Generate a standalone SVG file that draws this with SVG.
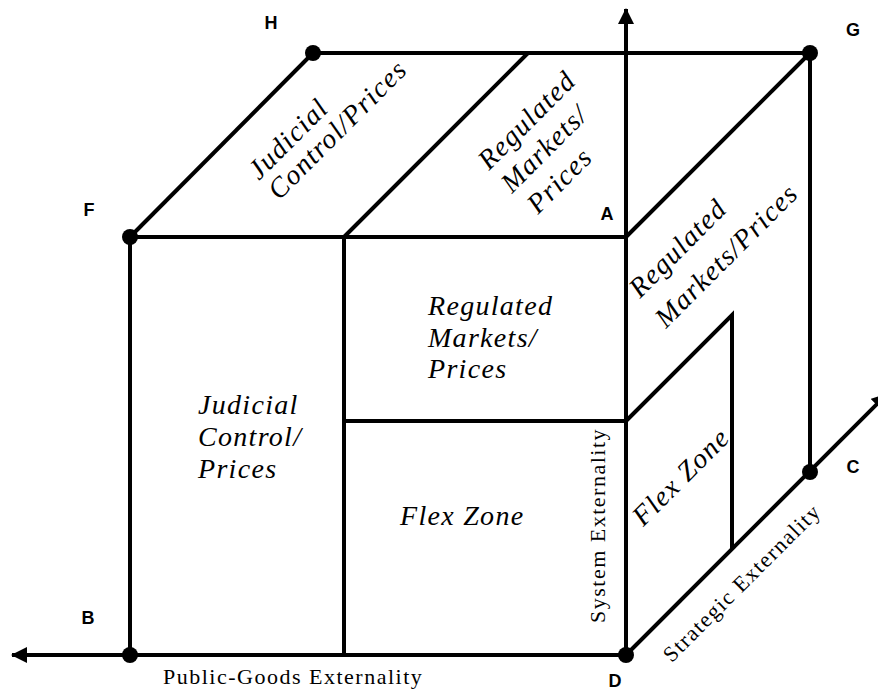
<svg xmlns="http://www.w3.org/2000/svg" width="878" height="691" viewBox="0 0 878 691">
<style>
.ln{stroke:#000;stroke-width:4;fill:none;stroke-linecap:butt}
.dot{fill:#000}
.it{font-family:"Liberation Serif","Times New Roman",serif;font-style:italic;font-size:28px;letter-spacing:1.3px;fill:#000}
.rm{font-family:"Liberation Serif","Times New Roman",serif;font-size:22px;letter-spacing:1.5px;fill:#000}
.lb{font-family:"Liberation Sans",Arial,sans-serif;font-weight:bold;font-size:18px;text-anchor:middle;fill:#000}
</style>
<defs>
<marker id="arr" viewBox="0 0 16 16" refX="15" refY="8" markerWidth="16" markerHeight="16" markerUnits="userSpaceOnUse" orient="auto">
<path d="M0,0 L16,8 L0,16 Z" fill="#000"/>
</marker>
</defs>
<rect width="878" height="691" fill="#fff"/>
<g id="connectors">
<line class="ln" x1="626" y1="655" x2="626" y2="9" marker-end="url(#arr)"/>
<line class="ln" x1="626" y1="655" x2="12" y2="655" marker-end="url(#arr)"/>
<line class="ln" x1="626" y1="655" x2="887" y2="394" marker-end="url(#arr)"/>
<line class="ln" x1="130" y1="237" x2="626" y2="237"/>
<line class="ln" x1="130" y1="237" x2="130" y2="655"/>
<line class="ln" x1="313" y1="53" x2="810" y2="53"/>
<line class="ln" x1="130" y1="237" x2="313" y2="53"/>
<line class="ln" x1="344" y1="237" x2="528" y2="53"/>
<line class="ln" x1="626" y1="237" x2="810" y2="53"/>
<line class="ln" x1="810" y1="53" x2="810" y2="472"/>
<line class="ln" x1="344" y1="237" x2="344" y2="655"/>
<line class="ln" x1="344" y1="421" x2="626" y2="421"/>
<polyline class="ln" points="626,421 732,315 732,549"/>
</g>
<g id="F"><circle class="dot" cx="130" cy="237" r="8"/><text class="lb" x="89" y="215.5">F</text></g>
<g id="H"><circle class="dot" cx="313" cy="53" r="8"/><text class="lb" x="271" y="28.5">H</text></g>
<g id="G"><circle class="dot" cx="810" cy="53" r="8"/><text class="lb" x="853" y="35.5">G</text></g>
<g id="A"><text class="lb" x="607" y="219.5">A</text></g>
<g id="B"><circle class="dot" cx="130" cy="655" r="8"/><text class="lb" x="88" y="623.5">B</text></g>
<g id="C"><circle class="dot" cx="810" cy="472" r="8"/><text class="lb" x="853" y="472.5">C</text></g>
<g id="D"><circle class="dot" cx="626" cy="655" r="8"/><text class="lb" x="615" y="687">D</text></g>
<g id="top-judicial">
<text class="it" transform="translate(259,181) rotate(-45)">Judicial</text>
<text class="it" transform="translate(279,201) rotate(-45)">Control/Prices</text>
</g>
<g id="top-regulated">
<text class="it" transform="translate(489,171) rotate(-45)">Regulated</text>
<text class="it" transform="translate(512,194) rotate(-45)">Markets/</text>
<text class="it" transform="translate(538,215) rotate(-45)">Prices</text>
</g>
<g id="side-regulated">
<text class="it" transform="translate(640,299) rotate(-45)">Regulated</text>
<text class="it" transform="translate(666,329) rotate(-45)">Markets/Prices</text>
</g>
<g id="front-judicial">
<text class="it" x="198" y="414">Judicial</text>
<text class="it" x="198" y="446">Control/</text>
<text class="it" x="198" y="478">Prices</text>
</g>
<g id="front-regulated">
<text class="it" x="428" y="315">Regulated</text>
<text class="it" x="428" y="347">Markets/</text>
<text class="it" x="428" y="378">Prices</text>
</g>
<g id="front-flex"><text class="it" x="400" y="525">Flex Zone</text></g>
<g id="side-flex"><text class="it" text-anchor="middle" transform="translate(681,477) rotate(-45)" y="9">Flex Zone</text></g>
<g id="axis-labels">
<text class="rm" x="163" y="684">Public-Goods Externality</text>
<text class="rm" transform="translate(605,623) rotate(-90)">System Externality</text>
<text class="rm" text-anchor="middle" transform="translate(742,583) rotate(-45)" y="7">Strategic Externality</text>
</g>
</svg>
